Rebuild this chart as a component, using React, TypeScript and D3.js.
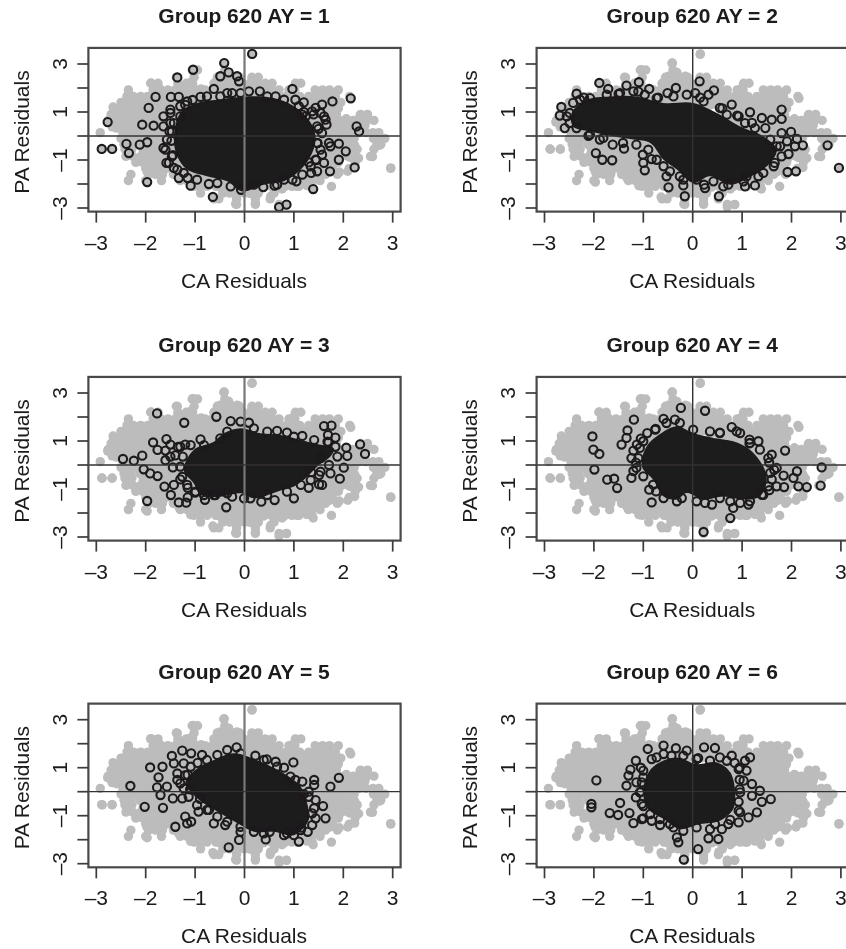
import React, { useRef, useEffect } from 'react';
import * as d3 from 'd3';

type Pt = [number, number];

const tickValues = [-3, -2, -1, 0, 1, 2, 3];
const yLabelled = [-3, -1, 1, 3];

// grey cloud = all groups pooled, read row by row: [PA residual, CA residuals]
const cloudRows: [number, number[]][] = [
  [3.4, [0.15]],
  [3.03, [-0.42]],
  [2.75, [-1.06, -0.95, -0.4]],
  [2.45, [-1.38, -1.02, -0.55, -0.42, -0.25, -0.1, 0.15, 0.28]],
  [2.2, [-1.9, -1.75, -1.35, -1.18, -1.05, -0.62, -0.48, -0.33, -0.18, -0.03, 0.12, 0.27, 0.42, 0.56, 1.03, 1.14]],
  [1.92, [-2.35, -1.85, -1.7, -1.55, -1.4, -1.25, -1.1, -0.95, -0.8, -0.65, -0.5, -0.35, -0.2, -0.05, 0.1, 0.25, 0.4, 0.55, 0.7, 0.9, 1.02, 1.43, 1.58, 1.72, 1.9]],
  [1.65, [-2.38, -2.25, -2.1, -1.96, -1.82, -1.69, -1.55, -1.4, -1.27, -1.12, -0.98, -0.85, -0.7, -0.56, -0.42, -0.28, -0.14, 0.0, 0.14, 0.28, 0.42, 0.56, 0.7, 0.84, 0.98, 1.12, 1.3, 1.44, 1.57, 1.7, 1.84, 2.13]],
  [1.4, [-2.5, -2.36, -2.22, -2.08, -1.94, -1.8, -1.66, -1.52, -1.38, -1.24, -1.1, -0.96, -0.82, -0.68, -0.54, -0.4, -0.26, -0.12, 0.02, 0.16, 0.3, 0.44, 0.58, 0.72, 0.86, 1.0, 1.14, 1.28, 1.42, 1.56, 1.7, 1.84, 1.95]],
  [1.15, [-2.65, -2.5, -2.37, -2.23, -2.09, -1.95, -1.81, -1.67, -1.53, -1.39, -1.25, -1.11, -0.97, -0.83, -0.69, -0.55, 0.55, 0.69, 0.83, 0.97, 1.11, 1.25, 1.39, 1.53, 1.67, 1.81, 1.9]],
  [0.9, [-2.7, -2.56, -2.42, -2.28, -2.14, -2.0, -1.86, -1.72, -1.58, -1.44, -1.3, -1.16, -1.02, -0.88, -0.74, -0.6, 0.6, 0.74, 0.88, 1.02, 1.16, 1.3, 1.44, 1.58, 1.72, 1.86, 2.35, 2.49]],
  [0.65, [-2.76, -2.62, -2.48, -2.34, -2.2, -2.06, -1.92, -1.78, -1.64, -1.5, -1.36, -1.22, -1.08, -0.94, -0.8, -0.66, 0.66, 0.8, 0.94, 1.08, 1.22, 1.36, 1.5, 1.64, 1.78, 1.92, 2.2, 2.33, 2.47, 2.62]],
  [0.38, [-2.68, -2.54, -2.4, -2.26, -2.12, -1.98, -1.84, -1.7, -1.56, -1.42, -1.28, -1.14, -1.0, -0.86, -0.72, -0.58, 0.6, 0.74, 0.88, 1.02, 1.16, 1.3, 1.44, 1.58, 1.72, 1.86, 2.0, 2.14, 2.28, 2.42]],
  [0.14, [-2.92, -2.46, -2.32, -2.18, -2.04, -1.9, -1.76, -1.62, -1.48, -1.34, -1.2, -1.06, -0.92, -0.78, -0.64, 0.64, 0.78, 0.92, 1.06, 1.2, 1.34, 1.48, 1.62, 1.76, 1.9, 2.04, 2.18, 2.32, 2.46, 2.6, 2.72]],
  [-0.1, [-2.5, -2.36, -2.22, -2.08, -1.94, -1.8, -1.66, -1.52, -1.38, -1.24, -1.1, -0.96, -0.82, -0.68, 0.68, 0.82, 0.96, 1.1, 1.24, 1.38, 1.52, 1.66, 1.8, 1.94, 2.08, 2.22, 2.7, 2.84]],
  [-0.35, [-2.44, -2.3, -2.08, -1.94, -1.8, -1.66, -1.52, -1.38, -1.24, -1.1, -0.96, -0.82, -0.68, 0.64, 0.78, 0.92, 1.06, 1.2, 1.34, 1.48, 1.62, 1.76, 1.9, 2.04, 2.18, 2.68, 2.76]],
  [-0.55, [-2.88, -2.68, -2.42, -2.28, -2.02, -1.88, -1.74, -1.6, -1.46, -1.32, -1.18, -1.04, -0.9, -0.76, -0.62, 0.6, 0.74, 0.88, 1.02, 1.16, 1.3, 1.44, 1.58, 1.72, 1.86, 2.0, 2.14, 2.28, 2.62]],
  [-0.85, [-2.4, -2.26, -2.1, -1.96, -1.82, -1.68, -1.54, -1.4, -1.26, -1.12, -0.98, -0.84, -0.7, -0.56, -0.42, -0.28, -0.14, 0.0, 0.14, 0.28, 0.42, 0.56, 0.7, 0.84, 0.98, 1.12, 1.26, 1.4, 1.54, 1.68, 1.82, 1.96, 2.1, 2.26, 2.55]],
  [-1.1, [-2.2, -2.06, -1.92, -1.78, -1.64, -1.5, -1.36, -1.22, -1.08, -0.94, -0.8, -0.66, -0.52, -0.38, -0.24, -0.1, 0.04, 0.18, 0.32, 0.46, 0.6, 0.74, 0.88, 1.02, 1.16, 1.3, 1.44, 1.58, 1.72, 1.9, 2.24]],
  [-1.35, [-2.0, -1.86, -1.72, -1.58, -1.44, -1.3, -1.16, -1.02, -0.88, -0.74, -0.6, -0.46, -0.32, -0.18, -0.04, 0.1, 0.24, 0.38, 0.52, 0.66, 0.8, 0.94, 1.08, 1.22, 1.36, 1.5, 1.64, 1.78, 2.12, 2.96]],
  [-1.6, [-2.3, -1.94, -1.8, -1.66, -1.44, -1.3, -1.16, -1.02, -0.88, -0.74, -0.6, -0.46, -0.32, -0.18, -0.04, 0.1, 0.24, 0.38, 0.52, 0.66, 0.8, 0.94, 1.08, 1.22, 1.36, 1.5, 1.64, 1.88]],
  [-1.86, [-2.35, -2.0, -1.68, -1.3, -1.16, -1.02, -0.88, -0.74, -0.6, -0.46, -0.32, -0.18, -0.04, 0.1, 0.24, 0.38, 0.52, 0.66, 0.8, 0.94, 1.08, 1.22, 1.36, 1.53]],
  [-2.1, [-1.02, -0.9, -0.76, -0.58, -0.44, -0.3, -0.16, -0.02, 0.12, 0.26, 0.4, 0.54, 0.68, 0.82, 0.96, 1.1, 1.37, 1.76]],
  [-2.38, [-0.89, -0.44, -0.3, -0.16, 0.0, 0.14, 0.28, 0.6]],
  [-2.62, [-0.62, -0.52, -0.16, 0.22, 0.52]],
  [-2.85, [-0.16, 0.22, 0.7, 0.85]],
];
const cloud: Pt[] = cloudRows.flatMap(([y, xs]) => xs.map((x) => [x, y] as Pt));

// open circles per group that stand clear of the solid overplotted mass
const points1: Pt[] = [
  [0.155, 3.42], [-0.41, 3.04], [-1.04, 2.76], [-1.36, 2.44], [-0.49, 2.49], [-0.32, 2.65], [-0.15, 2.49], [-0.11, 2.28],
  [-0.62, 1.96], [0.97, 1.96], [2.15, 1.57], [1.78, 1.44], [1.57, 1.31], [-1.8, 1.63], [-1.94, 1.17], [-2.77, 0.58],
  [-2.07, 0.47], [-1.84, 0.43], [-2.89, -0.54], [-2.68, -0.54], [-2.39, -0.33], [-2.34, -0.71], [-2.12, -0.36], [-1.97, -0.26],
  [-1.97, -1.92], [-1.49, 1.63], [-1.33, 1.63], [-0.89, 1.63], [-0.49, 1.65], [-0.25, 1.79], [0.09, 1.86], [0.31, 1.86],
  [0.63, 1.65], [1.03, 1.51], [1.2, 1.4], [1.44, 1.17], [1.61, 0.82], [1.66, 0.47], [2.27, 0.4], [2.32, 0.19],
  [1.91, -0.32], [2.05, -0.64], [1.74, -0.43], [1.57, -0.78], [1.91, -0.99], [2.23, -1.31], [1.73, -1.47], [1.35, -1.54],
  [1.39, -2.21], [1.05, -1.89], [0.8, -1.82], [0.61, -2.07], [0.38, -2.13], [-0.07, -2.24], [-0.64, -2.54], [-1.09, -2.07],
  [-0.72, -2.0], [-1.33, -1.75], [-1.15, -1.75], [-1.58, -1.12], [-1.43, -1.33], [0.7, -2.96], [0.85, -2.86], [-1.64, 0.82],
  [-1.43, 0.54], [-1.64, -0.5], [-1.5, 1.1], [-1.52, 0.2], [-1.48, -0.2], [-1.45, -0.8], [1.4, 0.9], [1.5, 0.3],
  [1.48, -0.3], [1.3, -1.1], [1.45, -1.0], [1.2, 1.0], [-1.2, 1.3], [-1.05, 1.5],
];
const points2: Pt[] = [
  [0.14, 2.28], [-0.34, 2.0], [-1.89, 2.21], [-1.71, 1.96], [-2.35, 1.76], [-1.34, 2.1], [-1.09, 2.24], [-0.88, 1.96],
  [-0.51, 1.79], [0.32, 1.72], [0.43, 1.9], [0.05, 1.79], [0.79, 1.31], [1.16, 0.99], [1.8, 1.1], [1.8, 0.71],
  [1.6, 0.68], [1.4, 0.75], [1.47, 0.33], [-2.66, 1.21], [-2.69, 0.85], [-2.59, 0.33], [-2.49, 0.96], [-2.42, 1.38],
  [-2.11, 0.01], [-1.88, -0.15], [-1.62, -0.36], [-1.39, -0.53], [-1.96, -0.71], [-1.83, -0.99], [-1.63, -1.01], [-1.01, -0.78],
  [-1.0, -1.12], [-0.97, -1.43], [-0.83, -0.96], [-0.53, -1.68], [-0.49, -2.14], [-0.19, -2.06], [-0.16, -2.51], [0.23, -2.03],
  [0.25, -2.17], [0.53, -2.51], [0.72, -2.03], [1.06, -2.1], [1.26, -2.06], [1.33, -1.68], [1.09, -1.68], [1.64, -1.26],
  [1.92, -1.5], [2.09, -1.47], [1.8, -0.85], [1.94, -0.75], [1.91, -0.22], [2.07, -0.43], [2.23, -0.39], [1.8, 0.12],
  [1.99, 0.17], [2.11, -0.12], [2.73, -0.39], [2.96, -1.33], [1.7, -0.43], [0.9, 0.85], [1.2, 0.55], [0.6, 1.15],
  [-2.2, 1.6], [-1.5, 1.75], [-1.1, 1.85], [-0.7, 1.6], [0.15, 1.6],
];
const points3: Pt[] = [
  [-1.77, 2.15], [-1.22, 1.76], [-0.57, 2.01], [-0.28, 1.83], [-0.08, 1.81], [0.09, 1.76], [0.19, 1.53], [-2.46, 0.25],
  [-2.24, 0.18], [-2.07, 0.39], [-1.85, 0.94], [-1.76, 0.63], [-1.58, 1.08], [-2.04, -0.18], [-1.91, -0.35], [-1.76, -0.46],
  [-1.97, -1.5], [-1.62, -0.9], [-1.49, -1.25], [-1.33, -1.56], [-1.18, -1.57], [-1.15, -1.35], [-1.43, -0.83], [-0.89, 1.07],
  [-0.37, -1.76], [-0.25, -1.32], [-0.59, -1.25], [0.12, -1.39], [0.34, -1.53], [0.61, -1.46], [1.0, -1.39], [0.66, 1.42],
  [0.86, 1.35], [1.17, 1.21], [1.61, 1.62], [1.76, 1.64], [1.69, 1.25], [1.84, 1.14], [2.06, 0.72], [2.34, 0.86],
  [2.44, 0.46], [2.08, 0.38], [2.01, -0.11], [1.74, -0.35], [1.93, -0.57], [1.51, -0.81], [1.57, -0.83], [1.51, -0.42],
  [-1.6, 0.6], [-1.5, 0.85], [-1.4, 0.4], [-1.35, 0.75], [-1.6, 0.2], [-1.45, -0.1], [-1.25, 0.35], [-1.2, 0.85],
  [-1.3, -0.6], [-1.15, -0.95], [-1.0, -1.15], [-0.8, -1.45], [1.3, -0.95], [1.7, 0.95], [1.55, 0.3], [1.35, -0.3],
];
const points4: Pt[] = [
  [-2.03, 1.19], [-2.01, 0.64], [-1.89, 0.46], [-1.99, -0.19], [-1.73, -0.61], [-1.59, -0.57], [-1.53, -0.96], [-1.24, -0.54],
  [-1.44, 0.85], [-1.34, 1.13], [-1.32, 1.44], [-1.19, 1.89], [-0.92, 1.33], [-0.59, 1.92], [-0.36, 1.89], [-0.24, 2.38],
  [0.25, 2.26], [0.35, 1.4], [0.79, 1.58], [0.96, 1.33], [1.15, 1.06], [1.33, 0.99], [1.87, 0.6], [1.6, 0.43],
  [2.61, -0.1], [2.11, -0.26], [1.84, -0.44], [2.04, -0.54], [1.7, -0.89], [1.85, -0.92], [2.14, -0.89], [2.31, -0.92],
  [2.59, -0.86], [1.13, -1.65], [0.96, -1.58], [0.82, -1.79], [0.76, -2.21], [0.39, -1.65], [0.25, -1.58], [0.22, -2.79],
  [-0.83, -1.56], [-0.74, -1.1], [-0.88, -1.03], [-0.22, -1.38], [-1.24, 0.29], [1.4, -1.24], [-1.13, 0.85], [-1.2, 0.6],
  [-1.15, 0.1], [-1.2, -0.25], [-1.05, 1.1], [-0.75, 1.5], [1.55, 0.1], [1.65, -0.2], [1.6, -0.6], [0.55, 1.35],
  [1.15, 0.9], [1.55, -1.05],
];
const points5: Pt[] = [
  [-2.31, 0.24], [-2.02, -0.63], [-1.91, 1.01], [-1.66, 1.04], [-1.74, 0.6], [-1.77, 0.18], [-1.7, -0.14], [-1.65, -0.67],
  [-1.47, 1.49], [-1.26, 1.71], [-1.08, 1.6], [-0.86, 1.53], [-1.43, 1.18], [-1.23, 1.18], [-1.36, 0.76], [-1.57, 0.21],
  [-1.45, -0.28], [-1.26, -0.28], [-1.4, -1.46], [-1.16, -1.32], [-1.08, -1.25], [-1.2, -1.04], [-0.93, -0.83], [-0.72, -0.76],
  [-0.62, -1.32], [-0.39, -1.39], [-0.11, -2.01], [-0.32, -2.32], [-0.08, -1.67], [-0.35, 1.74], [-0.16, 1.85], [0.22, 1.5],
  [0.63, 1.25], [0.99, 1.22], [1.03, 0.49], [1.41, 0.49], [1.41, 0.28], [1.74, 0.21], [1.91, 0.58], [1.59, -0.6],
  [1.64, -1.11], [1.41, -0.69], [1.44, -1.11], [1.28, -1.67], [1.1, -2.08], [0.43, -1.99], [0.51, -1.67], [0.86, -1.74],
  [1.3, -0.21], [-1.3, 0.35], [-1.15, 0.7], [-0.95, 1.2], [-1.1, 0.1], [-0.9, -0.3], [0.45, 1.35], [0.8, 1.0], [1.2, -0.1], [1.15, -1.5],
];
const points6: Pt[] = [
  [-1.95, 0.47], [-2.05, -0.51], [-2.05, -0.65], [-1.68, -0.89], [-1.51, -0.97], [-1.47, -0.47], [-1.28, -0.89], [-1.2, -1.31],
  [-1.0, -1.11], [-0.83, -1.21], [-0.66, -1.39], [-0.32, -1.9], [-0.29, -2.11], [-0.18, -2.83], [0.11, -2.39], [0.32, -1.94],
  [0.52, -1.97], [0.59, -1.56], [0.35, -1.56], [0.93, -1.28], [1.13, -1.07], [1.3, -0.86], [0.96, -0.86], [0.93, -0.42],
  [1.2, -0.17], [1.4, -0.42], [1.58, -0.31], [1.36, 0.04], [1.2, 0.32], [1.09, 0.88], [1.16, 1.43], [1.06, 1.29],
  [0.79, 1.5], [0.45, 1.82], [0.23, 1.85], [0.11, 1.4], [-0.12, 1.71], [-0.34, 1.81], [-0.59, 1.92], [-0.91, 1.78],
  [-1.15, 1.29], [-1.26, 0.92], [-1.3, 0.67], [-1.34, 0.25], [-1.15, -0.24], [-1.14, 0.39], [-1.03, -1.14], [-0.46, -1.35],
  [-0.73, 1.43], [-0.43, 1.5], [0.55, 1.43], [0.76, -1.17], [-1.05, 1.0], [-1.0, 0.6], [-1.05, 0.0], [-1.0, -0.6],
  [0.95, 0.5], [0.95, 1.0], [0.95, 0.1], [0.85, 1.2],
];

// tightly packed circles along the rim of each mass
const band1: Pt[] = [
  [1.54, 0.96], [1.64, 0.68], [1.47, 0.4], [1.57, 0.12], [1.47, -0.29], [1.71, -0.29], [1.54, -0.57], [1.44, -0.99], [1.61, -1.12],
  [1.34, -1.26], [1.47, -1.47], [1.17, -1.61], [0.97, -1.82], [1.24, 0.82], [1.37, 1.03], [1.1, 1.24], [1.17, 0.89],
  [-1.5, 0.96], [-1.64, 0.4], [-1.47, 0.19], [-1.57, -0.15], [-1.6, -0.57], [-1.47, -0.85], [-1.53, -1.12], [-1.36, -1.4], [-1.23, -1.54],
  [-0.96, -1.82], [-0.55, -1.96], [-0.28, -2.1], [-1.3, 1.24], [-1.16, 1.44], [-0.76, 1.65], [-0.35, 1.79], [-1.5, 0.54], [-1.3, 0.82],
  [-0.08, 1.79], [0.46, 1.65], [0.8, 1.51], [0.19, -2.03], [0.66, -2.03],
];
const band2: Pt[] = [
  [-2.28, 1.51], [-2.08, 1.58], [-1.74, 1.72], [-1.47, 1.79], [-1.2, 1.86], [-0.97, 1.72], [-0.73, 1.58], [-0.39, 1.65], [-0.12, 1.72],
  [0.22, 1.44], [0.55, 1.17], [0.69, 0.89], [0.93, 0.82], [1.06, 0.54], [1.26, 0.33], [1.57, -0.15],
  [-2.55, 0.82], [-2.49, 0.54], [-2.35, 0.33], [-2.08, 0.06], [-1.81, -0.08], [-1.41, -0.29], [-1.14, -0.36], [-0.9, -0.57], [-0.73, -0.99],
  [-0.59, -1.26], [-0.46, -1.47], [-0.26, -1.68], [-0.19, -1.82], [0.42, -1.89], [0.62, -2.1], [1.03, -1.89], [1.43, -1.54], [1.66, -1.12],
  [1.77, -0.43], [0.08, -1.82],
];
const band3: Pt[] = [
  [-1.3, 0.76], [-1.09, 0.83], [-0.82, 0.83], [-0.49, 1.11], [-0.35, 1.39], [0.46, 1.39], [1.0, 1.18], [1.41, 1.04], [1.68, 0.97], [1.84, 0.76],
  [-1.5, 0.35], [-1.3, -0.07], [-1.26, -0.49], [-1.16, -0.83], [-0.99, -1.11], [-0.82, -1.25], [-0.62, -1.25], [-0.35, -1.18], [-0.01, -1.39],
  [0.46, -1.25], [0.86, -1.11], [1.14, -0.83], [1.34, -0.63], [1.54, -0.28], [1.71, 0.0], [1.88, 0.35],
];
const band4: Pt[] = [
  [-1.0, 0.99], [-0.76, 1.47], [-0.53, 1.75], [-0.26, 1.75], [0.01, 1.47], [0.55, 1.33], [0.89, 1.4], [1.16, 0.92], [1.36, 0.64], [1.53, 0.29],
  [1.7, -0.12], [1.57, -0.33], [1.53, -0.89], [1.43, -1.24], [1.16, -1.51], [0.76, -1.51], [0.55, -1.38], [0.08, -1.51], [-0.32, -1.51],
  [-0.59, -1.38], [-0.8, -0.82], [-1.0, -0.47], [-1.14, -0.12], [-1.1, 0.29], [-1.07, 0.71],
];
const band5: Pt[] = [
  [-1.36, 0.49], [-1.2, 0.69], [-1.09, 1.04], [-0.76, 1.32], [-0.55, 1.53], [-0.08, 1.6], [0.39, 1.32], [0.66, 1.04], [0.93, 0.63], [1.17, 0.42],
  [1.3, 0.0], [1.44, -0.35], [1.37, -0.9], [1.37, -1.39], [1.14, -1.6], [1.0, -1.81], [0.8, -1.81], [0.39, -1.74], [0.19, -1.67], [-0.08, -1.46],
  [-0.35, -1.25], [-0.55, -1.04], [-0.76, -0.76], [-0.96, -0.56], [-1.13, -0.21], [-1.23, 0.14],
];
const band6: Pt[] = [
  [-1.03, 0.39], [-1.0, 0.88], [-0.83, 1.36], [-0.59, 1.57], [-0.19, 1.5], [0.08, 1.36], [0.35, 1.29], [0.69, 1.29], [0.93, 0.94], [1.03, 0.46],
  [0.96, -0.03], [0.93, -0.79], [0.72, -1.35], [0.45, -1.35], [0.08, -1.49], [-0.19, -1.63], [-0.39, -1.49], [-0.66, -1.14], [-0.86, -0.93],
  [-1.03, -0.51], [-1.07, -0.03],
];

// outline of the solid black overplotted mass per group
const mass1: Pt[] = [[-1.43, -0.15], [-1.3, 0.96], [-0.96, 1.38], [-0.55, 1.51], [0.05, 1.65], [0.59, 1.58], [1.0, 1.24], [1.3, 0.68], [1.44, -0.01], [1.37, -0.71], [1.14, -1.4], [0.8, -1.89], [0.39, -2.03], [-0.05, -2.31], [-0.35, -1.89], [-0.76, -1.68], [-1.16, -1.4], [-1.36, -0.85]];
const mass2: Pt[] = [[-2.45, 0.96], [-2.15, 1.51], [-1.68, 1.65], [-1.14, 1.65], [-0.59, 1.38], [0.01, 1.38], [0.49, 0.96], [0.96, 0.4], [1.43, -0.01], [1.7, -0.57], [1.57, -1.12], [1.3, -1.54], [0.76, -2.03], [0.35, -1.68], [0.01, -1.96], [-0.32, -1.4], [-0.59, -0.99], [-0.86, -0.29], [-1.2, -0.15], [-1.61, -0.01], [-2.08, 0.19], [-2.42, 0.4]];
const mass3: Pt[] = [[-1.23, -0.21], [-1.03, 0.63], [-0.62, 0.97], [-0.42, 1.32], [-0.08, 1.53], [0.32, 1.32], [0.73, 1.25], [1.14, 1.04], [1.41, 0.9], [1.81, 0.69], [1.74, 0.35], [1.47, -0.07], [1.27, -0.49], [1.0, -0.9], [0.66, -1.11], [0.19, -1.39], [-0.08, -1.18], [-0.49, -1.32], [-0.89, -1.25], [-1.03, -0.76]];
const mass4: Pt[] = [[-1.03, -0.06], [-0.93, 0.78], [-0.63, 1.33], [-0.32, 1.61], [0.01, 1.33], [0.42, 1.13], [0.82, 0.99], [1.16, 0.64], [1.43, -0.06], [1.5, -0.61], [1.36, -1.31], [1.03, -1.44], [0.62, -1.31], [0.22, -1.44], [-0.12, -1.17], [-0.32, -1.44], [-0.59, -1.31], [-0.8, -0.61]];
const mass5: Pt[] = [[-1.2, 0.35], [-0.96, 0.97], [-0.62, 1.32], [-0.22, 1.6], [0.32, 1.25], [0.8, 0.76], [1.14, 0.21], [1.27, -0.49], [1.3, -1.18], [1.0, -1.81], [0.59, -1.67], [0.19, -1.67], [-0.08, -1.39], [-0.49, -0.9], [-0.82, -0.49], [-1.06, -0.07]];
const mass6: Pt[] = [[-1.0, -0.17], [-0.93, 0.67], [-0.73, 1.15], [-0.32, 1.43], [0.08, 1.15], [0.49, 1.22], [0.76, 0.81], [0.86, -0.03], [0.82, -0.72], [0.55, -1.21], [0.15, -1.35], [-0.26, -1.56], [-0.59, -1.14], [-0.9, -0.72]];

const groups = [
  { ay: 1, points: points1.concat(band1), mass: mass1 },
  { ay: 2, points: points2.concat(band2), mass: mass2 },
  { ay: 3, points: points3.concat(band3), mass: mass3 },
  { ay: 4, points: points4.concat(band4), mass: mass4 },
  { ay: 5, points: points5.concat(band5), mass: mass5 },
  { ay: 6, points: points6.concat(band6), mass: mass6 },
];

const colX0 = [244.5, 692.7];
const rowY0 = [136, 465, 791.7];
const titleY = [22.5, 351.5, 678.5];
const fontFamily = '"Liberation Sans", Arial, sans-serif';
const fontSize = 21;
const fmt = (d: number) => String(d).replace('-', '\u2013');

export default function App() {
  const svgRef = useRef<SVGSVGElement>(null);

  useEffect(() => {
    const svg = d3.select(svgRef.current);
    svg.selectAll('*').remove();

    // all groups pooled behind every panel
    const pooled = cloud.concat(...groups.map((g) => g.points));

    svg.append('defs').append('filter').attr('id', 'scan')
      .append('feGaussianBlur').attr('stdDeviation', 0.4);

    groups.forEach((group, i) => {
      const col = i % 2;
      const row = Math.floor(i / 2);
      const x0 = colX0[col];
      const y0 = rowY0[row];

      const x = d3.scaleLinear().domain([-3, 3]).range([x0 - 148.2, x0 + 148.2]);
      const y = d3.scaleLinear().domain([-3, 3]).range([y0 + 72, y0 - 72]);
      const left = x(-3.16);
      const right = x(3.16);
      const top = y(3.67);
      const bottom = y(-3.15);

      const g = svg.append('g').attr('filter', 'url(#scan)');

      g.append('g').selectAll('circle').data(pooled).join('circle')
        .attr('cx', (d) => x(d[0]))
        .attr('cy', (d) => y(d[1]))
        .attr('r', 4.7)
        .attr('fill', '#bcbcbc');

      const line = d3.line<Pt>().x((d) => x(d[0])).y((d) => y(d[1])).curve(d3.curveCatmullRomClosed);
      g.append('path').attr('d', line(group.mass)).attr('fill', '#1d1a1b');

      g.append('g').selectAll('circle').data(group.points).join('circle')
        .attr('cx', (d) => x(d[0]))
        .attr('cy', (d) => y(d[1]))
        .attr('r', 4.1)
        .attr('fill', 'none')
        .attr('stroke', '#1d1a1b')
        .attr('stroke-width', 2.1);

      // reference lines at zero
      g.append('line').attr('x1', x(0)).attr('x2', x(0)).attr('y1', top).attr('y2', bottom)
        .attr('stroke', col === 0 ? '#777' : '#333').attr('stroke-width', col === 0 ? 2.2 : 1.4);
      g.append('line').attr('x1', left).attr('x2', right).attr('y1', y(0)).attr('y2', y(0))
        .attr('stroke', '#333').attr('stroke-width', 1.3);

      g.append('rect').attr('x', left).attr('y', top)
        .attr('width', right - left).attr('height', bottom - top)
        .attr('fill', 'none').attr('stroke', '#4a4a4a').attr('stroke-width', 2.2);

      const xAxis = d3.axisBottom(x).tickValues(tickValues).tickSize(11).tickFormat((d) => fmt(+d)).offset(0);
      const xG = g.append('g').attr('transform', `translate(0,${bottom})`).call(xAxis);
      xG.select('.domain').remove();
      xG.selectAll('line').attr('stroke', '#3a3a3a').attr('stroke-width', 1.7);
      xG.selectAll('text').attr('y', 38).attr('dy', 0).attr('fill', '#1a1a1a')
        .attr('font-family', fontFamily).attr('font-size', fontSize);

      const yAxis = d3.axisLeft(y).tickValues(tickValues).tickSize(11)
        .tickFormat((d) => (yLabelled.includes(+d) ? fmt(+d) : '')).offset(0);
      const yG = g.append('g').attr('transform', `translate(${left},0)`).call(yAxis);
      yG.select('.domain').remove();
      yG.selectAll('line').attr('stroke', '#3a3a3a').attr('stroke-width', 1.7);
      yG.selectAll('text').attr('x', 0).attr('y', 0).attr('dy', 0)
        .attr('transform', 'translate(-21.5,0) rotate(-90)')
        .attr('text-anchor', 'middle').attr('fill', '#1a1a1a')
        .attr('font-family', fontFamily).attr('font-size', fontSize);

      const labels = g.append('g').attr('font-family', fontFamily).attr('fill', '#1a1a1a').attr('text-anchor', 'middle');
      labels.append('text').attr('x', x0 - 0.5).attr('y', titleY[row])
        .attr('font-size', fontSize).attr('font-weight', 'bold')
        .text(`Group 620 AY = ${group.ay}`);
      labels.append('text').attr('x', x0 - 0.5).attr('y', bottom + 76)
        .attr('font-size', fontSize).text('CA Residuals');
      labels.append('text')
        .attr('transform', `translate(${left - 59.5},${y0 - 4}) rotate(-90)`)
        .attr('font-size', fontSize).text('PA Residuals');
    });
  }, []);

  return (
    <svg
      ref={svgRef}
      width={846}
      height={949}
      style={{ position: 'absolute', left: 0, top: 0, display: 'block', background: '#fff' }}
    />
  );
}
